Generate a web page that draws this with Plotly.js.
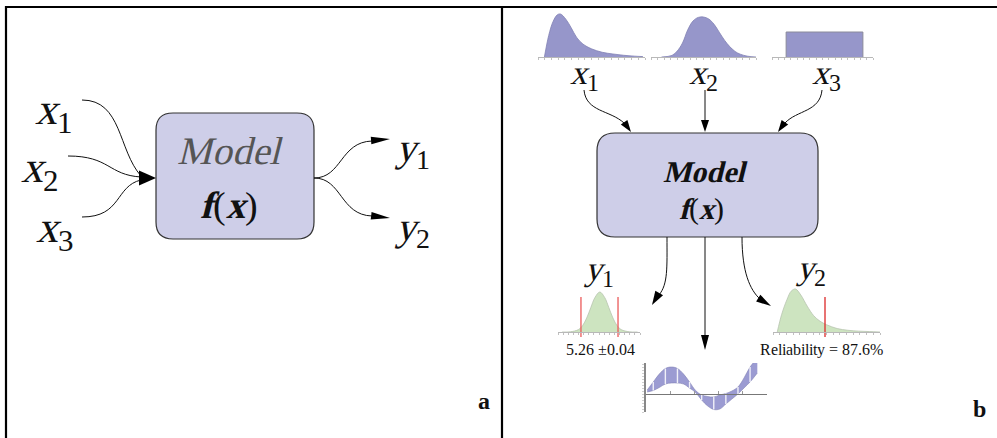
<!DOCTYPE html>
<html><head><meta charset="utf-8">
<script src="https://cdn.plot.ly/plotly-3.0.1.min.js"></script>
<style>
@font-face { font-family: 'SerifSynth'; font-style: normal; font-weight: 400; src: local('Liberation Serif'), local('LiberationSerif'); }
@font-face { font-family: 'SerifSynth'; font-style: normal; font-weight: 700; src: local('Liberation Serif Bold'), local('LiberationSerif-Bold'); }
html,body{margin:0;padding:0;background:#fff;}#chart{width:997px;height:438px;}
</style>
</head><body><div id="chart"></div>
<script>
// ---------------- data ----------------
// input x1 : right-skewed density
const X1_X = [0.6, 1.0, 1.4, 1.8, 2.1, 2.6, 3.1, 3.6, 4.2, 5.0, 6.0, 7.0, 8.0, 9.0, 9.8];
const X1_Y = [0, 0.5, 0.82, 0.98, 1.0, 0.88, 0.68, 0.46, 0.3, 0.19, 0.11, 0.07, 0.04, 0.02, 0.01];
// input x2 : bell-shaped density
const X2_X = [1.0, 2.0, 2.5, 3.0, 3.5, 4.0, 4.5, 5.0, 5.5, 6.0, 6.5, 7.0, 7.5, 8.0, 8.5, 9.2, 10];
const X2_Y = [0, 0.04, 0.15, 0.35, 0.68, 0.9, 0.99, 1.0, 0.95, 0.82, 0.62, 0.42, 0.26, 0.14, 0.07, 0.02, 0];
// input x3 : uniform density
const X3_X = [1.4, 1.4, 9.0, 9.0];
const X3_Y = [0, 1, 1, 0];
// output y1 : normal-like density with bounds
const Y1_X = [0.5, 1.5, 2.5, 3.0, 3.5, 4.0, 4.5, 5.1, 5.7, 6.2, 6.7, 7.2, 7.7, 8.7, 9.7];
const Y1_Y = [0, 0.005, 0.06, 0.16, 0.35, 0.61, 0.86, 1.0, 0.86, 0.61, 0.35, 0.16, 0.06, 0.005, 0];
const Y1_BOUNDS = [2.8, 7.32];
const Y1_LABEL = "5.26 ±0.04";
// output y2 : skewed density with limit
const Y2_X = [0.4, 0.8, 1.3, 1.7, 2.1, 2.6, 3.2, 3.8, 4.4, 5.0, 6.0, 7.0, 8.0, 9.0, 10];
const Y2_Y = [0, 0.4, 0.75, 0.95, 1.0, 0.86, 0.6, 0.38, 0.25, 0.17, 0.08, 0.04, 0.02, 0.01, 0];
const Y2_LIMIT = [4.86];
const Y2_LABEL = "Reliability = 87.6%";
// output band (function uncertainty)
const BAND_X = [0.05, 0.3, 0.55, 0.8, 1.05, 1.3, 1.55, 1.8, 2.05, 2.3, 2.55, 2.8, 3.05, 3.3, 3.55, 3.8, 4.05, 4.3, 4.6];
const BAND_UPPER = [4, 12, 20, 25.5, 27, 25.5, 20, 12, 3.5, -1, -2.5, -3, -1, 0.5, 3, 7, 16, 27, 36];
const BAND_LOWER = [2, 3.5, 6.5, 10, 11, 11, 10, 6, 1.5, -6, -12, -15.5, -15, -10, -5, 0, 6, 12, 21];

// ---------------- layout helpers ----------------
const W = 997, H = 438;
const FONT = 'SerifSynth, Liberation Serif, serif';
const PURPLE = 'rgb(150,150,202)';
const PURPLE_LINE = 'rgb(130,130,180)';
const GREEN = 'rgb(205,228,192)';
const BOX_FILL = 'rgb(206,206,232)';
const dx = (a, b) => [a / W, b / W];
const dy = (top, bottom) => [1 - bottom / H, 1 - top / H];

function roundRect(x0, y0, x1, y1, r) {
  return `M ${x0 + r},${y0} L ${x1 - r},${y0} Q ${x1},${y0} ${x1},${y0 + r} L ${x1},${y1 - r} Q ${x1},${y1} ${x1 - r},${y1} L ${x0 + r},${y1} Q ${x0},${y1} ${x0},${y1 - r} L ${x0},${y0 + r} Q ${x0},${y0} ${x0 + r},${y0} Z`;
}
function head(tx, ty, ux, uy, len, hw) {
  const n = Math.hypot(ux, uy); ux /= n; uy /= n;
  const bx = tx - ux * len, by = ty - uy * len;
  const px = -uy, py = ux;
  return `M ${tx},${ty} L ${bx + px * hw},${by + py * hw} L ${bx - px * hw},${by - py * hw} Z`;
}
const shapes = [];
function line(path, w, c) { shapes.push({type: 'path', xref: 'x', yref: 'y', path, line: {color: c || '#111', width: w || 1}}); }
function fillPath(path, c) { shapes.push({type: 'path', xref: 'x', yref: 'y', path, fillcolor: c || '#000', line: {width: 0}}); }

// frame
line('M 6,438 L 6,7 L 997,7', 2.2, '#000');
line('M 502,7 L 502,438', 2.2, '#000');

// panel a
shapes.push({type: 'path', xref: 'x', yref: 'y', path: roundRect(156, 113, 314, 239, 17), fillcolor: BOX_FILL, line: {color: '#333', width: 1.2}});
line('M 82,100 C 122,100 118,150 141,176');
line('M 68,156 C 110,156 108,175 141,177');
line('M 82,217 C 122,217 115,186 141,180');
fillPath(head(156, 178, 1, 0, 17, 7.5));
line('M 314,178 C 342,178 340,142 372,141');
line('M 314,178 C 342,178 340,215 372,216');
fillPath(head(390, 139, 1, -0.08, 19, 3.8));
fillPath(head(390, 218, 1, 0.12, 19, 3.8));

// panel b
shapes.push({type: 'path', xref: 'x', yref: 'y', path: roundRect(597, 133, 818, 237, 18), fillcolor: BOX_FILL, line: {color: '#333', width: 1.2}});
line('M 584,90 C 586,112 610,110 624,123');
fillPath(head(631, 132, 0.7, 1, 12, 4));
line('M 705,90 L 705,122');
fillPath(head(705, 132, 0, 1, 12, 4));
line('M 822,90 C 820,112 797,110 785,123');
fillPath(head(778, 132, -0.7, 1, 12, 4));
line('M 667,237 C 667,268 668,284 659,295');
fillPath(head(652, 305, -0.6, 1, 14, 4.5));
line('M 705,237 L 705,338');
fillPath(head(705, 350, 0, 1, 15, 4));
line('M 742,237 C 742,272 750,290 760,299');
fillPath(head(771, 306, 1, 0.62, 15, 4));

// ---------------- annotations ----------------
function ann(x, y, text, size, color) {
  return {xref: 'x', yref: 'y', x, y, text, showarrow: false, xanchor: 'center', yanchor: 'middle',
    font: {family: FONT, size, color: color || '#111'}};
}
const annotations = [
  ann(54, 112, '<i>x</i><sub>1</sub>', 44),
  ann(40, 170, '<i>x</i><sub>2</sub>', 44),
  ann(55, 230, '<i>x</i><sub>3</sub>', 44),
  ann(412, 150, '<i>y</i><sub>1</sub>', 40),
  ann(412, 229, '<i>y</i><sub>2</sub>', 40),
  ann(230, 150, '<i>Model</i>', 39, '#555'),
  ann(229, 205, '<b><i>f</i></b>(<b><i>x</i></b>)', 38),
  ann(484, 401, '<b>a</b>', 24),
  ann(979, 409, '<b>b</b>', 24),
  ann(584, 75, '<i>x</i><sub>1</sub>', 34),
  ann(703, 75, '<i>x</i><sub>2</sub>', 34),
  ann(826, 75, '<i>x</i><sub>3</sub>', 34),
  ann(705, 171, '<b><i>Model</i></b>', 30),
  ann(701, 208, '<b><i>f</i></b>(<b><i>x</i></b>)', 30),
  ann(598, 271, '<i>y</i><sub>1</sub>', 34),
  ann(810, 270, '<i>y</i><sub>2</sub>', 34),
  ann(600, 349, Y1_LABEL, 16),
  ann(821, 349, Y2_LABEL, 16)
];

// ---------------- traces ----------------
const traces = [
  {x: [], y: [], xaxis: 'x', yaxis: 'y', type: 'scatter'},
  {x: X1_X, y: X1_Y, xaxis: 'x2', yaxis: 'y2', type: 'scatter', mode: 'lines', fill: 'tozeroy',
   fillcolor: PURPLE, line: {color: PURPLE_LINE, width: 0.8, shape: 'spline'}},
  {x: X2_X, y: X2_Y, xaxis: 'x3', yaxis: 'y3', type: 'scatter', mode: 'lines', fill: 'tozeroy',
   fillcolor: PURPLE, line: {color: PURPLE_LINE, width: 0.8, shape: 'spline'}},
  {x: X3_X, y: X3_Y, xaxis: 'x4', yaxis: 'y4', type: 'scatter', mode: 'lines', fill: 'tozeroy',
   fillcolor: PURPLE, line: {color: '#8a8a9a', width: 1}},
  {x: Y1_X, y: Y1_Y, xaxis: 'x5', yaxis: 'y5', type: 'scatter', mode: 'lines', fill: 'tozeroy',
   fillcolor: GREEN, line: {color: '#b8c4b0', width: 0.8, shape: 'spline'}},
  {x: [Y1_BOUNDS[0], Y1_BOUNDS[0], null, Y1_BOUNDS[1], Y1_BOUNDS[1]], y: [-0.125, 0.875, null, -0.125, 0.875],
   xaxis: 'x5', yaxis: 'y5', type: 'scatter', mode: 'lines', line: {color: 'rgb(235,90,90)', width: 1.3}},
  {x: Y2_X, y: Y2_Y, xaxis: 'x6', yaxis: 'y6', type: 'scatter', mode: 'lines', fill: 'tozeroy',
   fillcolor: GREEN, line: {color: '#b8c4b0', width: 0.8, shape: 'spline'}},
  {x: [Y2_LIMIT[0], Y2_LIMIT[0]], y: [-0.116, 0.814],
   xaxis: 'x6', yaxis: 'y6', type: 'scatter', mode: 'lines', line: {color: 'rgb(220,40,40)', width: 1.3}},
  {x: BAND_X, y: BAND_LOWER, xaxis: 'x7', yaxis: 'y7', type: 'scatter', mode: 'lines',
   line: {color: PURPLE_LINE, width: 0.6, shape: 'spline'}},
  {x: BAND_X, y: BAND_UPPER, xaxis: 'x7', yaxis: 'y7', type: 'scatter', mode: 'lines', fill: 'tonexty',
   fillcolor: 'rgb(155,155,210)', line: {color: PURPLE_LINE, width: 0.6, shape: 'spline'}}
];
// white stripes across the band at every other sample
const sx = [], sy = [];
BAND_X.forEach((v, i) => { if (i % 2 === 1 && i < BAND_X.length - 1) { sx.push(v, v, null); sy.push(BAND_LOWER[i], BAND_UPPER[i], null); } });
traces.push({x: sx, y: sy, xaxis: 'x7', yaxis: 'y7', type: 'scatter', mode: 'lines', line: {color: 'rgba(255,255,255,0.85)', width: 1.4}});
traces.forEach(t => { t.showlegend = false; t.hoverinfo = 'skip'; });

// ---------------- axes ----------------
const hidden = {visible: false, fixedrange: true};
function miniX(domain, extra) {
  return Object.assign({domain, range: [0, 10], showline: true, linecolor: '#b8b8b8', linewidth: 1,
    ticks: 'outside', ticklen: 2, tickcolor: '#c0c0c0', dtick: 0.625, showticklabels: false,
    showgrid: false, zeroline: false, fixedrange: true}, extra || {});
}
const layout = {
  width: W, height: H, margin: {l: 0, r: 0, t: 0, b: 0},
  paper_bgcolor: '#fff', plot_bgcolor: 'rgba(0,0,0,0)', showlegend: false,
  xaxis: Object.assign({domain: [0, 1], range: [0, W]}, hidden),
  yaxis: Object.assign({domain: [0, 1], range: [H, 0]}, hidden),
  xaxis2: miniX(dx(538, 645), {anchor: 'y2'}),
  yaxis2: Object.assign({domain: dy(12, 57), range: [0, 45 / 43], anchor: 'x2'}, hidden),
  xaxis3: miniX(dx(651, 756), {anchor: 'y3'}),
  yaxis3: Object.assign({domain: dy(12, 57), range: [0, 45 / 40], anchor: 'x3'}, hidden),
  xaxis4: miniX(dx(772, 873), {anchor: 'y4'}),
  yaxis4: Object.assign({domain: dy(12, 57), range: [0, 45 / 25], anchor: 'x4'}, hidden),
  xaxis5: miniX(dx(558, 640), {anchor: 'free', position: 1 - 332 / H}),
  yaxis5: Object.assign({domain: dy(290, 338), range: [-0.15, 1.05], anchor: 'x5'}, hidden),
  xaxis6: miniX(dx(773, 880), {anchor: 'free', position: 1 - 332 / H}),
  yaxis6: Object.assign({domain: dy(286, 338), range: [-6 / 43, 46 / 43], anchor: 'x6'}, hidden),
  xaxis7: {domain: dx(646, 767), range: [0, 5], anchor: 'free', position: 1 - 394 / H, showline: true,
    linecolor: '#777', linewidth: 1, ticks: 'inside', ticklen: 3, tickcolor: '#999', dtick: 1,
    showticklabels: false, showgrid: false, zeroline: false, fixedrange: true},
  yaxis7: {domain: dy(363, 412), range: [-18, 31], anchor: 'x7', showline: true, linecolor: '#888',
    linewidth: 2, ticks: 'outside', ticklen: 2, tickcolor: '#d0d0d0', dtick: 3, showticklabels: false,
    showgrid: false, zeroline: false, fixedrange: true},
  shapes, annotations
};
function draw() { Plotly.newPlot('chart', traces, layout, {staticPlot: true, displayModeBar: false}); }
let done = false;
function once() { if (!done) { done = true; draw(); } }
if (document.fonts && document.fonts.load) {
  Promise.all([document.fonts.load('16px SerifSynth'), document.fonts.load('bold 16px SerifSynth')])
    .then(once, once);
  setTimeout(once, 1500);
} else { once(); }
</script></body></html>
